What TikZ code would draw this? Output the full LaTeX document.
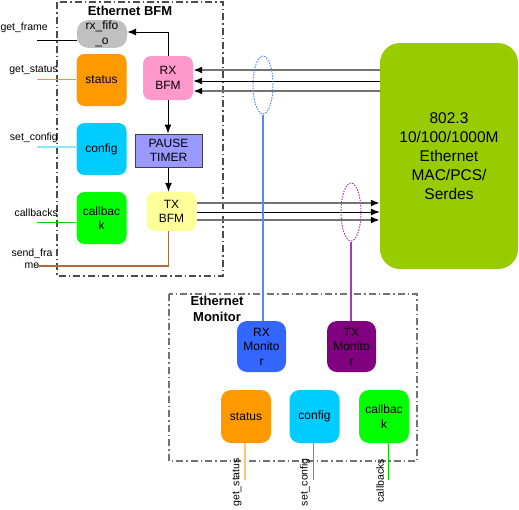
\documentclass[tikz,border=0pt]{standalone}
\usepackage{fontspec}
\setmainfont{Liberation Sans}
\usetikzlibrary{arrows.meta, positioning, shapes.geometric, calc}
\definecolor{statuscol}{HTML}{FF9900}
\definecolor{configcol}{HTML}{00CCFF}
\definecolor{callbackcol}{HTML}{00FF00}
\definecolor{rxcol}{HTML}{FF99CC}
\definecolor{txcol}{HTML}{FFFF99}
\definecolor{fifocol}{HTML}{C0C0C0}
\definecolor{pausecol}{HTML}{9999FF}
\definecolor{maccol}{HTML}{99CC00}
\definecolor{rxmoncol}{HTML}{3366FF}
\definecolor{txmoncol}{HTML}{800080}
\definecolor{rxtapcol}{HTML}{5588FF}
\definecolor{txtapcol}{HTML}{A040B0}
\definecolor{framecol}{HTML}{B06A40}

\begin{document}
\begin{tikzpicture}[
    x=1pt, y=-1pt,
    block/.style={rectangle, rounded corners=8pt, minimum width=50pt, minimum height=52pt,
                  align=center, inner sep=1pt, font=\fontsize{12}{14.5}\selectfont},
    group/.style={draw=black!70, line width=1.2pt, dash pattern=on 7pt off 3pt on 1.5pt off 3pt},
    title/.style={font=\fontsize{13}{16}\selectfont\bfseries, align=center, inner sep=0pt},
    sig/.style={font=\fontsize{10.5}{12}\selectfont, inner sep=0pt, align=center},
    arr/.style={-{Latex[length=9pt,width=7pt,color=black]}, line width=1pt},
    bus/.style={arr, draw=black!55, line width=1.8pt},
    tap/.style={ellipse, draw, dash pattern=on 1.5pt off 1.2pt, line width=1pt,
                minimum width=20pt, minimum height=58pt, inner sep=0pt}
]
\useasboundingbox (0,0) rectangle (519,509);

% Ethernet BFM
\draw[group] (57,2) rectangle (223,276);
\node[title] (bfmtitle) at (130,11) {Ethernet BFM};

\node[block, fill=fifocol, rounded corners=11pt, minimum height=26pt] (rxfifo) at (102,34) {rx\_fifo\\\_o};
\node[block, fill=statuscol] (status) at (101.5,80) {status};
\node[block, fill=rxcol, minimum height=44pt] (rxbfm) at (168,78) {RX\\BFM};
\node[block, fill=configcol] (config) at (101.5,149) {config};
\node[block, fill=pausecol, rounded corners=0pt, draw=black!75, line width=1pt,
      minimum width=67pt, minimum height=33pt] (pause) at (168.5,150.5) {PAUSE\\TIMER};
\node[block, fill=callbackcol] (callback) at (101.5,218) {callbac\\k};
\node[block, fill=txcol, minimum height=39pt] (txbfm) at (171.5,211.5) {TX\\BFM};

\draw[arr] (rxbfm.north) |- (rxfifo.east |- 0,32);
\draw[arr] (rxbfm.south) -- (rxbfm.south |- pause.north);
\draw[arr] (pause.south) -- (pause.south |- txbfm.north);

% host side signals
\node[sig, anchor=east] (getframe) at (48,28) {get\_frame};
\node[sig, anchor=east] (getstatus) at (58,70) {get\_status};
\node[sig, anchor=east] (setconfig) at (58,138) {set\_config};
\node[sig, anchor=east] (callbacks) at (58,213) {callbacks};
\node[sig] (sendframe) at (32,259) {send\_fra\\me};
\coordinate (gf) at (37,40);
\coordinate (gs) at (37,79);
\coordinate (sc) at (37,147);
\coordinate (cb) at (37,222);
\coordinate (sf) at (37,266);
\draw[line width=0.9pt] (gf) -- (gf -| rxfifo.west);
\draw[statuscol, line width=0.9pt] (gs) -- (gs -| status.west);
\draw[configcol!45, line width=1.5pt] (sc) -- (sc -| config.west);
\draw[callbackcol!85!black, line width=1pt] (cb) -- (cb -| callback.west);
\draw[framecol, line width=1.4pt] (pause.south |- txbfm.south) |- (sf);

% MAC
\node[block, fill=maccol, rounded corners=20pt, minimum width=138pt, minimum height=226pt,
      font=\fontsize{15.5}{19}\selectfont] (mac) at (449,156)
      {802.3\\10/100/1000M\\Ethernet\\MAC/PCS/\\Serdes};

\foreach \y/\s in {70/bus, 81/arr, 91/bus}
    \draw[\s] (mac.west |- 0,\y) -- (rxbfm.east |- 0,\y);
\foreach \y/\s in {203/bus, 212/arr, 220/bus}
    \draw[\s] (txbfm.east |- 0,\y) -- (mac.west |- 0,\y);

% taps
\node[tap, draw=rxtapcol] (rxtap) at (263,85) {};
\node[tap, draw=txtapcol] (txtap) at (351,212) {};

% Ethernet Monitor
\draw[group, draw=black!55] (169,294) rectangle (417,461);
\node[title] (montitle) at (217,309) {Ethernet\\Monitor};

\node[block, fill=rxmoncol, rounded corners=10pt, minimum width=49pt, minimum height=51pt] (rxmon) at (261.5,346.5) {RX\\Monito\\r};
\node[block, fill=txmoncol, rounded corners=10pt, minimum width=49pt, minimum height=51pt] (txmon) at (351.5,346.5) {TX\\Monito\\r};
\node[block, fill=statuscol, rounded corners=10pt, minimum height=53pt] (mstatus) at (246,416.5) {status};
\node[block, fill=configcol, rounded corners=10pt, minimum height=53pt] (mconfig) at (314.5,416.5) {config};
\node[block, fill=callbackcol, rounded corners=10pt, minimum height=53pt] (mcallback) at (384,416.5) {callbac\\k};

\draw[rxtapcol, line width=1.4pt] (rxtap.south) -- (rxtap.south |- rxmon.north);
\draw[txtapcol, line width=1.4pt] (txtap.south) -- (txtap.south |- txmon.north);

\coordinate (mgs) at (245,480);
\coordinate (msc) at (313,480);
\coordinate (mcb) at (388,480);
\draw[statuscol!55, line width=1.5pt] (mstatus.south -| mgs) -- (mgs);
\draw[configcol!70!teal, line width=1pt] (mconfig.south -| msc) -- (msc);
\draw[callbackcol!85!black, line width=1pt] (mcallback.south -| mcb) -- (mcb);

\node[sig, rotate=90, anchor=east] (mgetstatus) at (237,458) {get\_status};
\node[sig, rotate=90, anchor=east] (msetconfig) at (305,458) {set\_config};
\node[sig, rotate=90, anchor=east] (mcallbacks) at (380,459) {callbacks};

\end{tikzpicture}
\end{document}
